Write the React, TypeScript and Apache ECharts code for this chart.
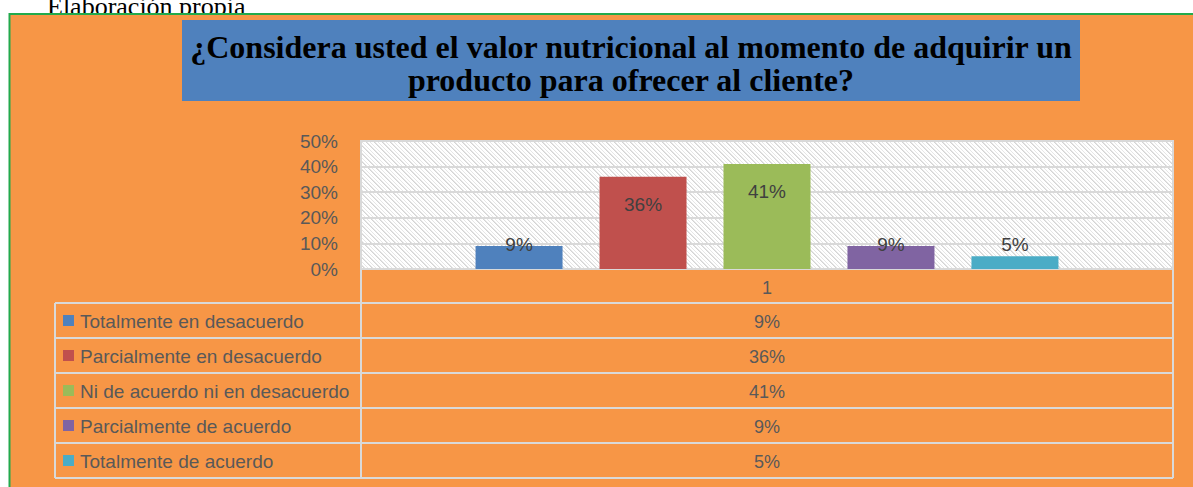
import React, { useEffect, useRef } from "react";
import * as echarts from "echarts";

const categories = ["1"];
const seriesNames = [
  "Totalmente en desacuerdo",
  "Parcialmente en desacuerdo",
  "Ni de acuerdo ni en desacuerdo",
  "Parcialmente de acuerdo",
  "Totalmente de acuerdo",
];
const seriesValues = [0.09, 0.36, 0.41, 0.09, 0.05];
const seriesColors = ["#4F81BD", "#C0504D", "#9BBB59", "#8064A2", "#4BACC6"];
const yTickStep = 0.1;
const yMax = 0.5;
const titleText = "¿Considera usted el valor nutricional al momento de adquirir un\nproducto para ofrecer al cliente?";
const sourceText = "Elaboración propia";

const pct = (v: number) => Math.round(v * 100) + "%";

function makeHatch(): string {
  const c = document.createElement("canvas");
  c.width = 8;
  c.height = 8;
  const ctx = c.getContext("2d");
  if (!ctx) return "";
  ctx.fillStyle = "#ffffff";
  ctx.fillRect(0, 0, 8, 8);
  for (let i = 0; i < 8; i++) {
    ctx.fillStyle = "#d4d4d4";
    ctx.fillRect(i, i, 1, 1);
    ctx.fillStyle = "#e6e6e6";
    ctx.fillRect((i + 1) % 8, i, 1, 1);
    ctx.fillRect((i + 4) % 8, i, 1, 1);
  }
  return c.toDataURL();
}

export default function App() {
  const ref = useRef<HTMLDivElement>(null);
  useEffect(() => {
    if (!ref.current) return;
    const chart = echarts.init(ref.current, null, { renderer: "svg" });
    const hatch = makeHatch();
    const gridL = 361, gridR = 1173, gridT = 141, gridB = 269;
    const tableL = 55;
    const rowTops = [303, 338, 373, 408, 443];
    const rowH = 35;
    const lineColor = "#d9d9d9";
    const font = "'Liberation Sans', Arial, sans-serif";

    const graphics: any[] = [
      {
        type: "text",
        x: 47,
        y: 19,
        z: -20,
        style: {
          text: sourceText,
          font: "26px 'Liberation Serif', 'Times New Roman', serif",
          fill: "#000",
          verticalAlign: "bottom",
        },
      },
      {
        type: "rect",
        shape: { x: 9.5, y: 14, width: 1200, height: 500 },
        z: -10,
        style: { fill: "#F79646", stroke: "#22aa4c", lineWidth: 2 },
      },
      {
        type: "rect",
        shape: { x: 182, y: 20, width: 898, height: 81 },
        z: -9,
        style: { fill: "#4F81BD" },
      },
      {
        type: "text",
        x: 631,
        y: 63,
        z: -8,
        style: {
          text: titleText,
          font: "bold 32px 'Liberation Serif', 'Times New Roman', serif",
          fill: "#000",
          align: "center",
          verticalAlign: "middle",
          lineHeight: 33,
        },
      },
      {
        type: "rect",
        shape: { x: gridL, y: gridT, width: gridR - gridL, height: gridB - gridT },
        z: -9,
        style: { fill: { image: hatch, repeat: "repeat" } as any, stroke: lineColor, lineWidth: 2 },
      },
      { type: "line", z: 5, shape: { x1: gridL, y1: gridB, x2: gridL, y2: rowTops[4] + rowH }, style: { stroke: lineColor, lineWidth: 2 } },
      { type: "line", z: 5, shape: { x1: gridR, y1: gridB, x2: gridR, y2: rowTops[4] + rowH }, style: { stroke: lineColor, lineWidth: 2 } },
      { type: "line", z: 5, shape: { x1: tableL, y1: rowTops[0], x2: tableL, y2: rowTops[4] + rowH }, style: { stroke: lineColor, lineWidth: 2 } },
    ];
    rowTops.forEach((t, i) => {
      graphics.push({ type: "line", z: 5, shape: { x1: tableL, y1: t, x2: gridR, y2: t }, style: { stroke: lineColor, lineWidth: 2 } });
      if (i === rowTops.length - 1) {
        graphics.push({ type: "line", z: 5, shape: { x1: tableL, y1: t + rowH, x2: gridR, y2: t + rowH }, style: { stroke: lineColor, lineWidth: 2 } });
      }
      graphics.push({ type: "rect", z: 5, shape: { x: 63, y: t + rowH / 2 - 5.5, width: 11, height: 11 }, style: { fill: seriesColors[i] } });
      graphics.push({
        type: "text", z: 5, x: 80, y: t + rowH / 2 + 1,
        style: { text: seriesNames[i], font: "19px " + font, fill: "#595959", verticalAlign: "middle" },
      });
      graphics.push({
        type: "text", z: 5, x: (gridL + gridR) / 2, y: t + rowH / 2 + 1,
        style: { text: pct(seriesValues[i]), font: "18px " + font, fill: "#595959", align: "center", verticalAlign: "middle" },
      });
    });

    chart.setOption({
      animation: false,
      backgroundColor: "#ffffff",
      grid: { left: gridL, top: gridT, width: gridR - gridL, height: gridB - gridT, containLabel: false },
      xAxis: {
        type: "category",
        data: categories,
        axisLine: { lineStyle: { color: lineColor, width: 2 } },
        axisTick: { show: false },
        axisLabel: { color: "#595959", fontSize: 18, fontFamily: font, margin: 10 },
        splitLine: { show: false },
      },
      yAxis: {
        type: "value",
        min: 0,
        max: yMax,
        interval: yTickStep,
        axisLine: { show: false },
        axisTick: { show: false },
        axisLabel: { color: "#595959", fontSize: 19, fontFamily: font, margin: 23, formatter: (v: number) => pct(v) },
        splitLine: { lineStyle: { color: lineColor, width: 2 } },
      },
      series: seriesNames.map((name, i) => ({
        type: "bar",
        name,
        barWidth: 87,
        barGap: "42.5%",
        itemStyle: { color: seriesColors[i] },
        data: [
          {
            value: seriesValues[i],
            label: {
              show: true,
              position: seriesValues[i] > 0.2 ? "insideTop" : "insideBottom",
              distance: seriesValues[i] > 0.2 ? 18 : 15,
              color: "#404040",
              fontSize: 19,
              fontFamily: font,
              formatter: (p: any) => pct(p.value),
            },
          },
        ],
      })),
      graphic: graphics,
    });
    return () => chart.dispose();
  }, []);
  return <div ref={ref} style={{ position: "absolute", left: 0, top: 0, width: 1193, height: 487 }} />;
}
